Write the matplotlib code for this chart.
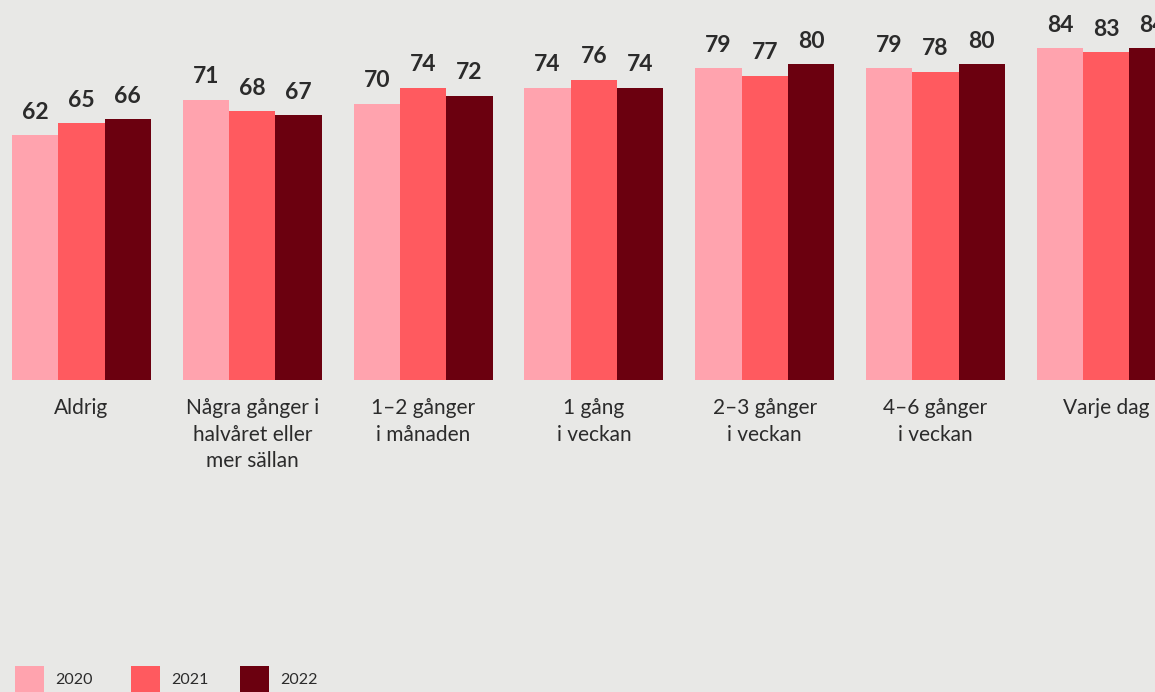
import numpy as np
import matplotlib.pyplot as plt
from matplotlib.patches import Rectangle

plt.rcParams['font.family'] = ['Lato', 'DejaVu Sans']

categories = [
    "Aldrig",
    "Några gånger i\nhalvåret eller\nmer sällan",
    "1–2 gånger\ni månaden",
    "1 gång\ni veckan",
    "2–3 gånger\ni veckan",
    "4–6 gånger\ni veckan",
    "Varje dag",
]
years = ["2020", "2021", "2022"]
v2020 = [62, 71, 70, 74, 79, 79, 84]
v2021 = [65, 68, 74, 76, 77, 78, 83]
v2022 = [66, 67, 72, 74, 80, 80, 84]
values = [v2020, v2021, v2022]

colors = ["#ffa3ae", "#ff5a5f", "#6b000f"]
bg = "#e8e8e6"
txt = "#2b2b2b"

W, H = 1155, 692
fig = plt.figure(figsize=(W / 100, H / 100), dpi=100, facecolor=bg)
ax = fig.add_axes([0, 0, 1, 1])
ax.set_facecolor(bg)

# pixel geometry: group spacing 170.8px, first group centre at 81.5px,
# baseline 312px from bottom, 3.95px per unit
gap = 170.8
ppu = 3.95
ax.set_xlim(-81.5 / gap, (W - 81.5) / gap)
ax.set_ylim(-312 / ppu, (H - 312) / ppu)

x = np.arange(len(categories))
bw = 46.3 / gap
for j, (vals, c) in enumerate(zip(values, colors)):
    xs = x + (j - 1) * bw
    ax.bar(xs, vals, width=bw, color=c, linewidth=0)
    for xi, v in zip(xs, vals):
        ax.annotate(str(v), (xi, v), xytext=(0, 16.5), textcoords="offset points",
                    ha="center", va="center", fontsize=16.5, fontweight="bold",
                    color=txt)

for xi, lab in zip(x, categories):
    ax.annotate(lab, (xi, 0), xytext=(0, -13), textcoords="offset points",
                ha="center", va="top", fontsize=15, color=txt,
                linespacing=1.42)

ax.axis("off")

# legend swatches along the bottom edge
leg_x = [15, 131, 240]
for lx, yr, c in zip(leg_x, years, colors):
    fig.patches.append(Rectangle((lx / W, 0), 29 / W, 26 / H, transform=fig.transFigure,
                                 facecolor=c, linewidth=0))
    fig.text((lx + 40) / W, 12 / H, yr, ha="left", va="center",
             fontsize=11.5, color=txt)

fig.savefig("out.png", dpi=100, facecolor=bg)
